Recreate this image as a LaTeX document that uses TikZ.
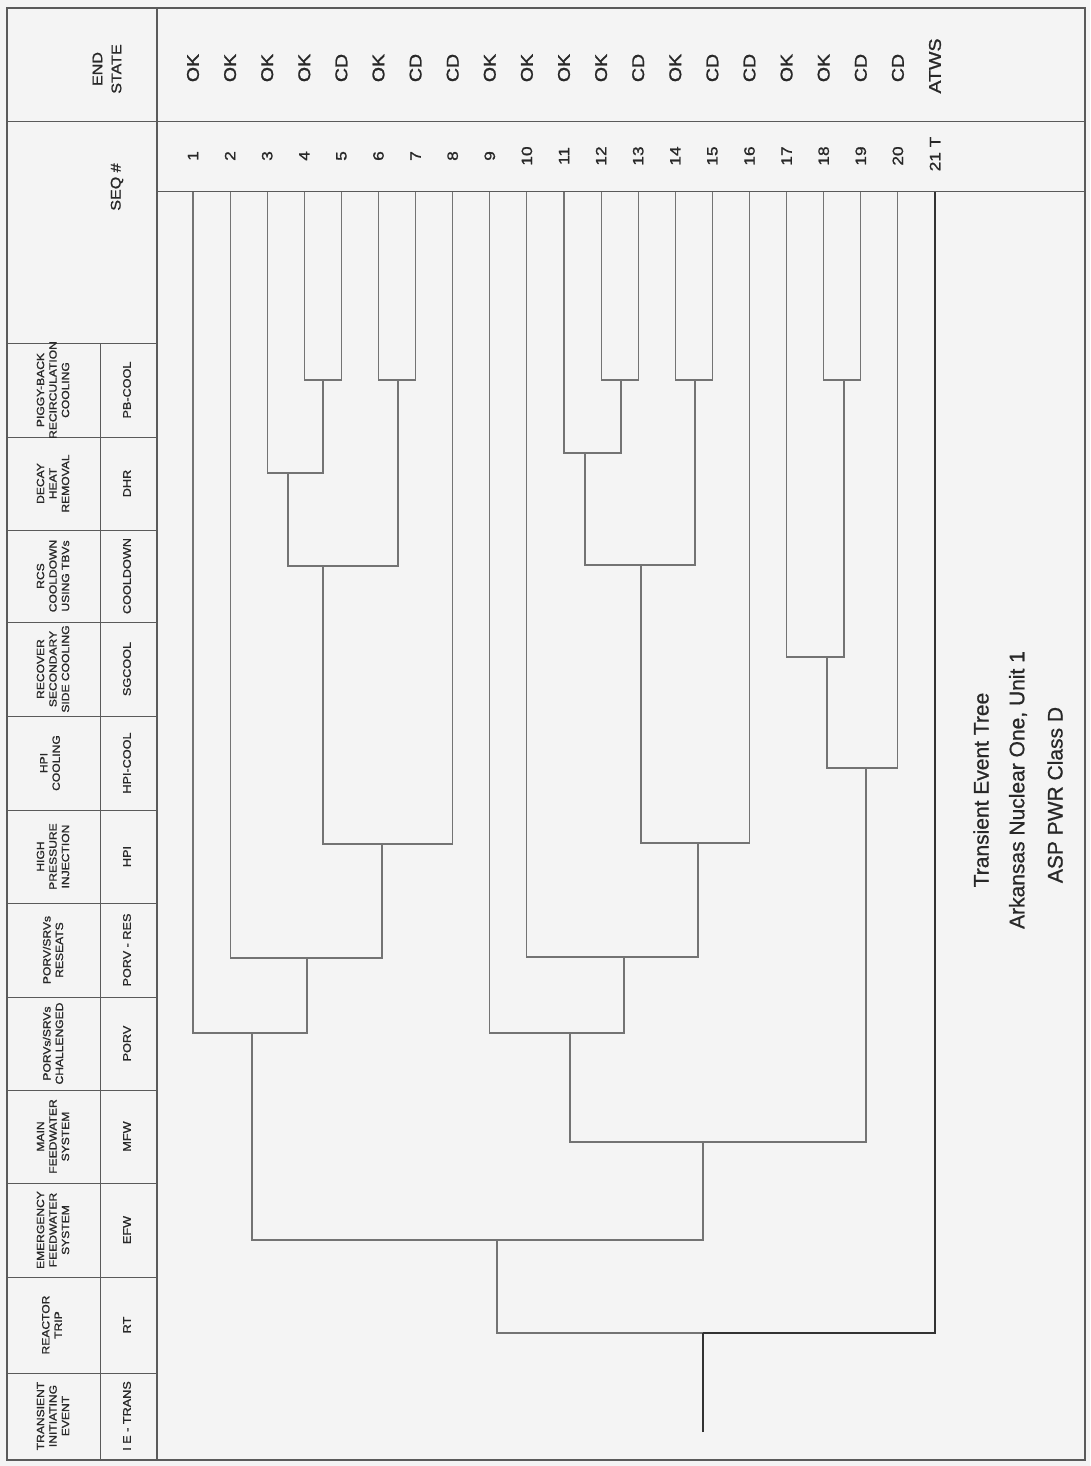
\documentclass[tikz,border=0pt]{standalone}
\usepackage{fontspec}
\setmainfont{Liberation Sans}
\newfontfamily\widesans[FakeStretch=1.15,FakeBold=1.2]{Liberation Sans}
\newfontfamily\captionsans[FakeBold=0.8]{Liberation Sans}
\definecolor{paper}{RGB}{244,244,244}
\definecolor{rulegray}{RGB}{90,90,90}
\definecolor{treegray}{RGB}{115,115,115}
\definecolor{heavyline}{RGB}{50,50,50}
\definecolor{ink}{RGB}{40,40,40}
\begin{document}
\begin{tikzpicture}[x=1pt,y=-1pt,
  outline/.style={draw=rulegray,line width=1.4pt},
  cellrule/.style={draw=rulegray,line width=1pt},
  branch/.style={draw=treegray,line width=1.1pt},
  heavy/.style={draw=heavyline,line width=2.6pt},
  desc/.style={rotate=90,align=center,inner sep=0pt,text=ink,
    font=\widesans\fontsize{10.5}{12.5}\selectfont},
  abbr/.style={rotate=90,inner sep=0pt,text=ink,
    font=\widesans\fontsize{11}{13}\selectfont},
  colhead/.style={rotate=90,align=center,inner sep=0pt,text=ink,
    font=\widesans\fontsize{14}{19}\selectfont},
  seqno/.style={rotate=90,inner sep=0pt,text=ink,
    font=\widesans\fontsize{15}{17}\selectfont},
  endstate/.style={rotate=90,inner sep=0pt,text=ink,
    font=\widesans\fontsize{17}{19}\selectfont},
  caption/.style={rotate=90,inner sep=0pt,text=ink,
    font=\captionsans\fontsize{21}{24}\selectfont}]

% page and frame
\useasboundingbox (0,0) rectangle (1090,1466);
\fill[paper] (0,0) rectangle (1090,1466);
\draw[outline] (7,8) rectangle (1085,1460);
\draw[outline] (157,8) -- (157,1460);
\draw[cellrule] (100,343) -- (100,1460);
\draw[cellrule] (7,122) -- (1085,122);
\draw[cellrule] (157,192) -- (1085,192);
\foreach \yy in {343,437,530,622,716,810,903,997,1090,1183,1277,1373}
  \draw[cellrule] (7,\yy) -- (157,\yy);

% column headings
\node[colhead] (hEnd) at (107,69) {END\\STATE};
\node[colhead] (hSeq) at (117,187) {SEQ \#};
\node[desc] (dPB)   at (53,390)    {PIGGY-BACK\\RECIRCULATION\\COOLING};
\node[desc] (dDHR)  at (53,483.5)  {DECAY\\HEAT\\REMOVAL};
\node[desc] (dCD)   at (53,576)    {RCS\\COOLDOWN\\USING TBVs};
\node[desc] (dSG)   at (53,669)    {RECOVER\\SECONDARY\\SIDE COOLING};
\node[desc] (dHPIC) at (50,763)    {HPI\\COOLING};
\node[desc] (dHPI)  at (53,856.5)  {HIGH\\PRESSURE\\INJECTION};
\node[desc] (dRES)  at (53,950)    {PORV/SRVs\\RESEATS};
\node[desc] (dPORV) at (53,1043.5) {PORVs/SRVs\\CHALLENGED};
\node[desc] (dMFW)  at (53,1136.5) {MAIN\\FEEDWATER\\SYSTEM};
\node[desc] (dEFW)  at (53,1230)   {EMERGENCY\\FEEDWATER\\SYSTEM};
\node[desc] (dRT)   at (52,1325)   {REACTOR\\TRIP};
\node[desc] (dIE)   at (53,1416)   {TRANSIENT\\INITIATING\\EVENT};

\node[abbr] (aPB)   at (127,390)    {PB-COOL};
\node[abbr] (aDHR)  at (127,483.5)  {DHR};
\node[abbr] (aCD)   at (127,576)    {COOLDOWN};
\node[abbr] (aSG)   at (127,669)    {SGCOOL};
\node[abbr] (aHPIC) at (127,763)    {HPI-COOL};
\node[abbr] (aHPI)  at (127,856.5)  {HPI};
\node[abbr] (aRES)  at (127,950)    {PORV - RES};
\node[abbr] (aPORV) at (127,1043.5) {PORV};
\node[abbr] (aMFW)  at (127,1136.5) {MFW};
\node[abbr] (aEFW)  at (127,1230)   {EFW};
\node[abbr] (aRT)   at (127,1325)   {RT};
\node[abbr] (aIE)   at (127,1416)   {I E - TRANS};

% sequence numbers and end states
\foreach \k/\es in {1/OK,2/OK,3/OK,4/OK,5/CD,6/OK,7/CD,8/CD,9/OK,10/OK,
                    11/OK,12/OK,13/CD,14/OK,15/CD,16/CD,17/OK,18/OK,19/CD,20/CD}{
  \coordinate (top\k) at ({193+37.1*(\k-1)},192);
  \node[seqno] (n\k) at ({193+37.1*(\k-1)},156) {\k};
  \node[endstate] (e\k) at ({193+37.1*(\k-1)},68) {\es};
}
\coordinate (top21) at (935,192);
\node[seqno] (n21) at (935,154) {21 T};
\node[endstate] (e21) at (935,66) {ATWS};

% branch points: stem position and branching level
\coordinate (j45)   at (323,380);
\coordinate (j67)   at (398,380);
\coordinate (j35)   at (288,473);
\coordinate (j37)   at (323,566);
\coordinate (j38)   at (382,844);
\coordinate (j28)   at (307,958);
\coordinate (j18)   at (252,1033);
\coordinate (j1213) at (621,380);
\coordinate (j1415) at (695,380);
\coordinate (j1113) at (585,453);
\coordinate (j1115) at (641,565);
\coordinate (j1116) at (698,843);
\coordinate (j1016) at (624,957);
\coordinate (j916)  at (570,1033);
\coordinate (j1819) at (844,380);
\coordinate (j1719) at (827,657);
\coordinate (j1720) at (866,768);
\coordinate (j920)  at (703,1142);
\coordinate (j120)  at (497,1240);
\coordinate (j121)  at (703,1333);
\coordinate (ie)    at (703,1432);

% event tree
\draw[branch] (top4) |- (j45) -| (top5);
\draw[branch] (top6) |- (j67) -| (top7);
\draw[branch] (top3) |- (j35) -| (j45);
\draw[branch] (j35) |- (j37) -| (j67);
\draw[branch] (j37) |- (j38) -| (top8);
\draw[branch] (top2) |- (j28) -| (j38);
\draw[branch] (top1) |- (j18) -| (j28);
\draw[branch] (top12) |- (j1213) -| (top13);
\draw[branch] (top14) |- (j1415) -| (top15);
\draw[branch] (top11) |- (j1113) -| (j1213);
\draw[branch] (j1113) |- (j1115) -| (j1415);
\draw[branch] (j1115) |- (j1116) -| (top16);
\draw[branch] (top10) |- (j1016) -| (j1116);
\draw[branch] (top9) |- (j916) -| (j1016);
\draw[branch] (top18) |- (j1819) -| (top19);
\draw[branch] (top17) |- (j1719) -| (j1819);
\draw[branch] (j1719) |- (j1720) -| (top20);
\draw[branch] (j916) |- (j920) -| (j1720);
\draw[branch] (j18) |- (j120) -| (j920);
\draw[branch] (j120) |- (j121);
\draw[heavy] (j121) -| (top21);
\draw[heavy] (ie) -- (j121);

% title block
\node[caption] (t1) at (981,790) {Transient Event Tree};
\node[caption] (t2) at (1018,790) {Arkansas Nuclear One, Unit 1};
\node[caption] (t3) at (1055,795) {ASP PWR Class D};
\end{tikzpicture}
\end{document}
